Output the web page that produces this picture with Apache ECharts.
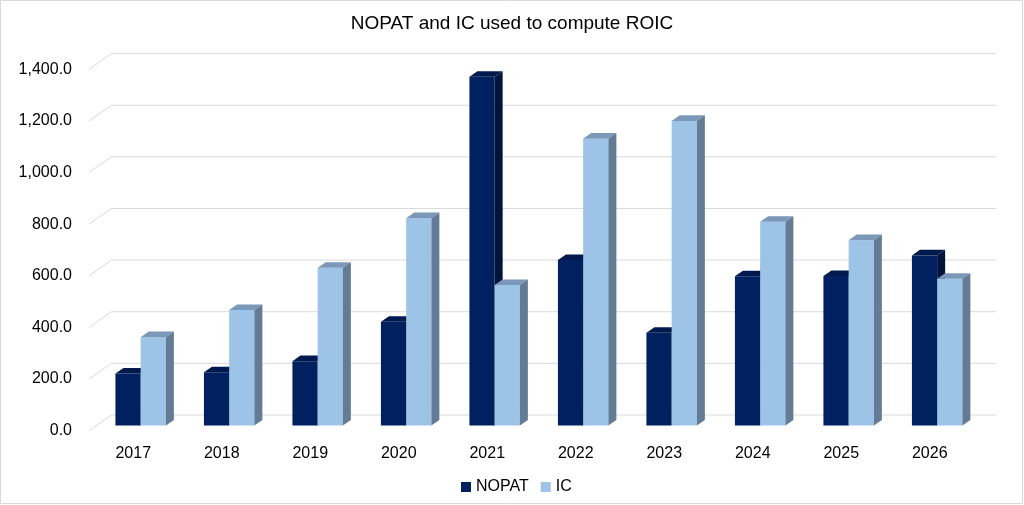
<!DOCTYPE html>
<html>
<head>
<meta charset="utf-8">
<title>NOPAT and IC used to compute ROIC</title>
<script src="https://cdn.jsdelivr.net/npm/echarts@6/dist/echarts.min.js"></script>
<style>
  html, body { margin: 0; padding: 0; background: #fff; }
  #roic_chart { width: 1024px; height: 505px; }
</style>
</head>
<body>
<div id="roic_chart"></div>
<script>
// Data
var years = ['2017', '2018', '2019', '2020', '2021', '2022', '2023', '2024', '2025', '2026'];
var nopat = [201, 206, 249, 402, 1351, 641, 359, 578, 579, 659];
var ic = [342, 447, 611, 803, 544, 1111, 1180, 789, 718, 568];
var yTicks = [0, 200, 400, 600, 800, 1000, 1200, 1400];

// Fake 3D geometry (pixels)
var WALL_DX = 22.4, WALL_DY = 15.7;   // back wall offset from front plane
var BAR_DX = 7.4, BAR_DY = 5.2;       // bar plane offset from front plane
var DEPTH_DX = 8, DEPTH_DY = 5.6;     // bar depth
var BAR_RATIO = 0.285;                // one bar width / category band

var faces = {
    NOPAT: { front: '#002060', top: '#001a4e', side: '#00143c' },
    IC: { front: '#9dc3e6', top: '#7b98b8', side: '#637b95' }
};

var chart = echarts.init(document.getElementById('roic_chart'));

function renderWall(params, api) {
    var cs = params.coordSys;
    var y = api.coord([0, api.value(1)])[1];
    var x0 = cs.x, x1 = cs.x + cs.width;
    return {
        type: 'polyline',
        shape: { points: [[x0, y], [x0 + WALL_DX, y - WALL_DY], [x1 + WALL_DX, y - WALL_DY]] },
        style: { stroke: '#d9d9d9', lineWidth: 1, fill: null },
        silent: true
    };
}

function makeBarRenderer(name, slot) {
    var c = faces[name];
    return function (params, api) {
        var idx = api.value(0);
        var base = api.coord([idx, 0]);
        var top = api.coord([idx, api.value(1)]);
        var w = api.size([1, 0])[0] * BAR_RATIO;
        var x = base[0] + BAR_DX + (slot - 1) * w;
        var yb = base[1] - BAR_DY;
        var yt = top[1] - BAR_DY;
        return {
            type: 'group',
            children: [
                {
                    type: 'rect',
                    shape: { x: x, y: yt, width: w, height: yb - yt },
                    style: { fill: c.front }
                },
                {
                    type: 'polygon',
                    shape: { points: [[x, yt], [x + DEPTH_DX, yt - DEPTH_DY], [x + w + DEPTH_DX, yt - DEPTH_DY], [x + w, yt]] },
                    style: { fill: c.top }
                },
                {
                    type: 'polygon',
                    shape: { points: [[x + w, yt], [x + w + DEPTH_DX, yt - DEPTH_DY], [x + w + DEPTH_DX, yb - DEPTH_DY], [x + w, yb]] },
                    style: { fill: c.side }
                }
            ]
        };
    };
}

chart.setOption({
    animation: false,
    textStyle: { fontFamily: '"Liberation Sans", Arial, sans-serif' },

    title: {
        text: 'NOPAT and IC used to compute ROIC',
        left: 'center',
        top: 9,
        textStyle: { fontSize: 19, fontWeight: 'normal', color: '#000' }
    },

    legend: {
        data: ['NOPAT', 'IC'],
        left: 456,
        top: 474,
        icon: 'rect',
        itemWidth: 10,
        itemHeight: 10,
        itemGap: 12,
        textStyle: { fontSize: 16, color: '#000' }
    },

    graphic: [{
        type: 'rect',
        shape: { x: 0.5, y: 0.5, width: 1022, height: 503 },
        style: { fill: null, stroke: '#d9d9d9', lineWidth: 1 },
        silent: true
    }],

    grid: { left: 89, right: 50, top: 69.3, bottom: 74.3 },

    xAxis: {
        type: 'category',
        data: years,
        axisLine: { show: false },
        axisTick: { show: false },
        axisLabel: { fontSize: 16, color: '#000', margin: 15 }
    },

    yAxis: {
        type: 'value',
        min: 0,
        max: 1400,
        interval: 200,
        axisLine: { show: false },
        axisTick: { show: false },
        splitLine: { show: false },
        axisLabel: {
            fontSize: 16,
            color: '#000',
            margin: 17,
            formatter: function (v) {
                return v.toLocaleString('en-US', { minimumFractionDigits: 1, maximumFractionDigits: 1 });
            }
        }
    },

    series: [
        {
            name: 'wall',
            type: 'custom',
            silent: true,
            clip: false,
            renderItem: renderWall,
            encode: { x: 0, y: 1 },
            data: yTicks.map(function (v) { return [0, v]; }),
            z: 1
        },
        {
            name: 'NOPAT',
            type: 'custom',
            clip: false,
            renderItem: makeBarRenderer('NOPAT', 0),
            itemStyle: { color: faces.NOPAT.front },
            encode: { x: 0, y: 1 },
            data: nopat.map(function (v, i) { return [i, v]; }),
            z: 2
        },
        {
            name: 'IC',
            type: 'custom',
            clip: false,
            renderItem: makeBarRenderer('IC', 1),
            itemStyle: { color: faces.IC.front },
            encode: { x: 0, y: 1 },
            data: ic.map(function (v, i) { return [i, v]; }),
            z: 3
        }
    ]
});

window.addEventListener('resize', function () {
    chart.resize();
});
</script>
</body>
</html>
